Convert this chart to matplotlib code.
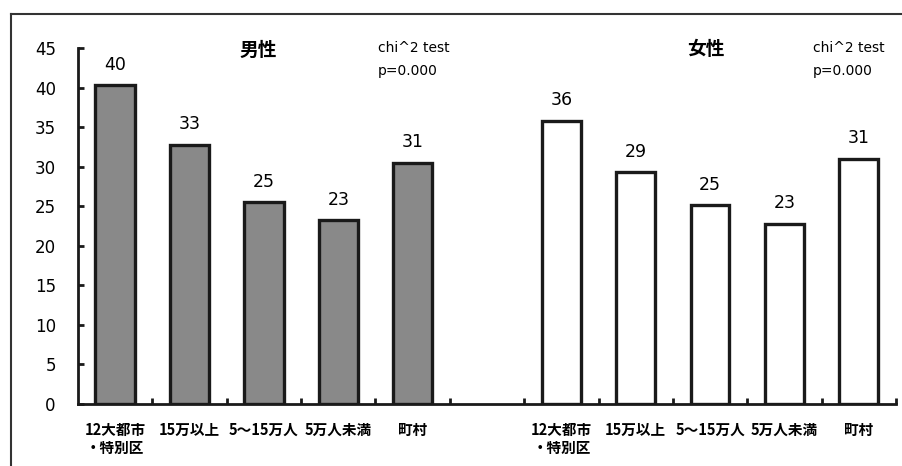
import matplotlib.pyplot as plt
from matplotlib.lines import Line2D

plt.rcParams["font.family"] = ["Noto Sans CJK JP", "DejaVu Sans"]

categories = ["12大都市\n・特別区", "15万以上", "5～15万人", "5万人未満", "町村"]
male_values = [40.3, 32.8, 25.5, 23.2, 30.5]
female_values = [35.8, 29.3, 25.1, 22.8, 31.0]
male_labels = ["40", "33", "25", "23", "31"]
female_labels = ["36", "29", "25", "23", "31"]
panel_titles = ["男性", "女性"]
test_lines = ["chi^2 test", "p=0.000"]
y_ticks = [0, 5, 10, 15, 20, 25, 30, 35, 40, 45]

n = len(categories)
male_x = list(range(n))
female_x = [i + n + 1 for i in range(n)]

fig = plt.figure(figsize=(9.03, 4.66), dpi=100)
ax = fig.add_axes([0.0864, 0.133, 0.9058, 0.764])

ax.bar(male_x, male_values, width=0.53, color="#898989", edgecolor="#1a1a1a", linewidth=2.4)
ax.bar(female_x, female_values, width=0.52, color="white", edgecolor="#1a1a1a", linewidth=2.4)

for x, v, lab in zip(male_x + female_x, male_values + female_values, male_labels + female_labels):
    ax.text(x, v + 2.6, lab, ha="center", va="center", fontsize=12.5, family="DejaVu Sans",
            fontweight="medium")

ax.set_xlim(-0.5, 2 * n + 0.5)
ax.set_ylim(0, 45)
ax.set_yticks(y_ticks)
ax.set_yticklabels([str(t) for t in y_ticks], fontsize=12, family="DejaVu Sans")

ax.set_xticks(male_x + female_x)
ax.set_xticklabels(categories + categories, fontsize=10.5, fontweight="bold", linespacing=1.15, va="top")
ax.tick_params(axis="x", which="major", length=0, pad=13)
ax.set_xticks([i + 0.5 for i in range(2 * n + 1)], minor=True)
ax.tick_params(axis="x", which="minor", direction="in", length=4, width=2, color="#1a1a1a")
ax.tick_params(axis="y", direction="in", length=4, width=2, color="#1a1a1a", pad=16)

for side in ["top", "right"]:
    ax.spines[side].set_visible(False)
for side in ["left", "bottom"]:
    ax.spines[side].set_linewidth(2)
    ax.spines[side].set_color("#1a1a1a")

# panel titles and test results
for title, tx, cx in zip(panel_titles, [1.93, n + 1 + 1.95], [3.53, n + 1 + 3.38]):
    ax.text(tx, 44.75, title, ha="center", va="center", fontsize=13.5, fontweight="bold")
    ax.text(cx, 45.0, test_lines[0], ha="left", va="center", fontsize=10, family="DejaVu Sans")
    ax.text(cx, 42.1, test_lines[1], ha="left", va="center", fontsize=10, family="DejaVu Sans")

# outer frame (top and left edges)
fig.add_artist(Line2D([0.012, 1.0], [0.970, 0.970], color="#333333", linewidth=1.5))
fig.add_artist(Line2D([0.012, 0.012], [0.0, 0.970], color="#333333", linewidth=1.5))

fig.savefig("out.png", dpi=100)
